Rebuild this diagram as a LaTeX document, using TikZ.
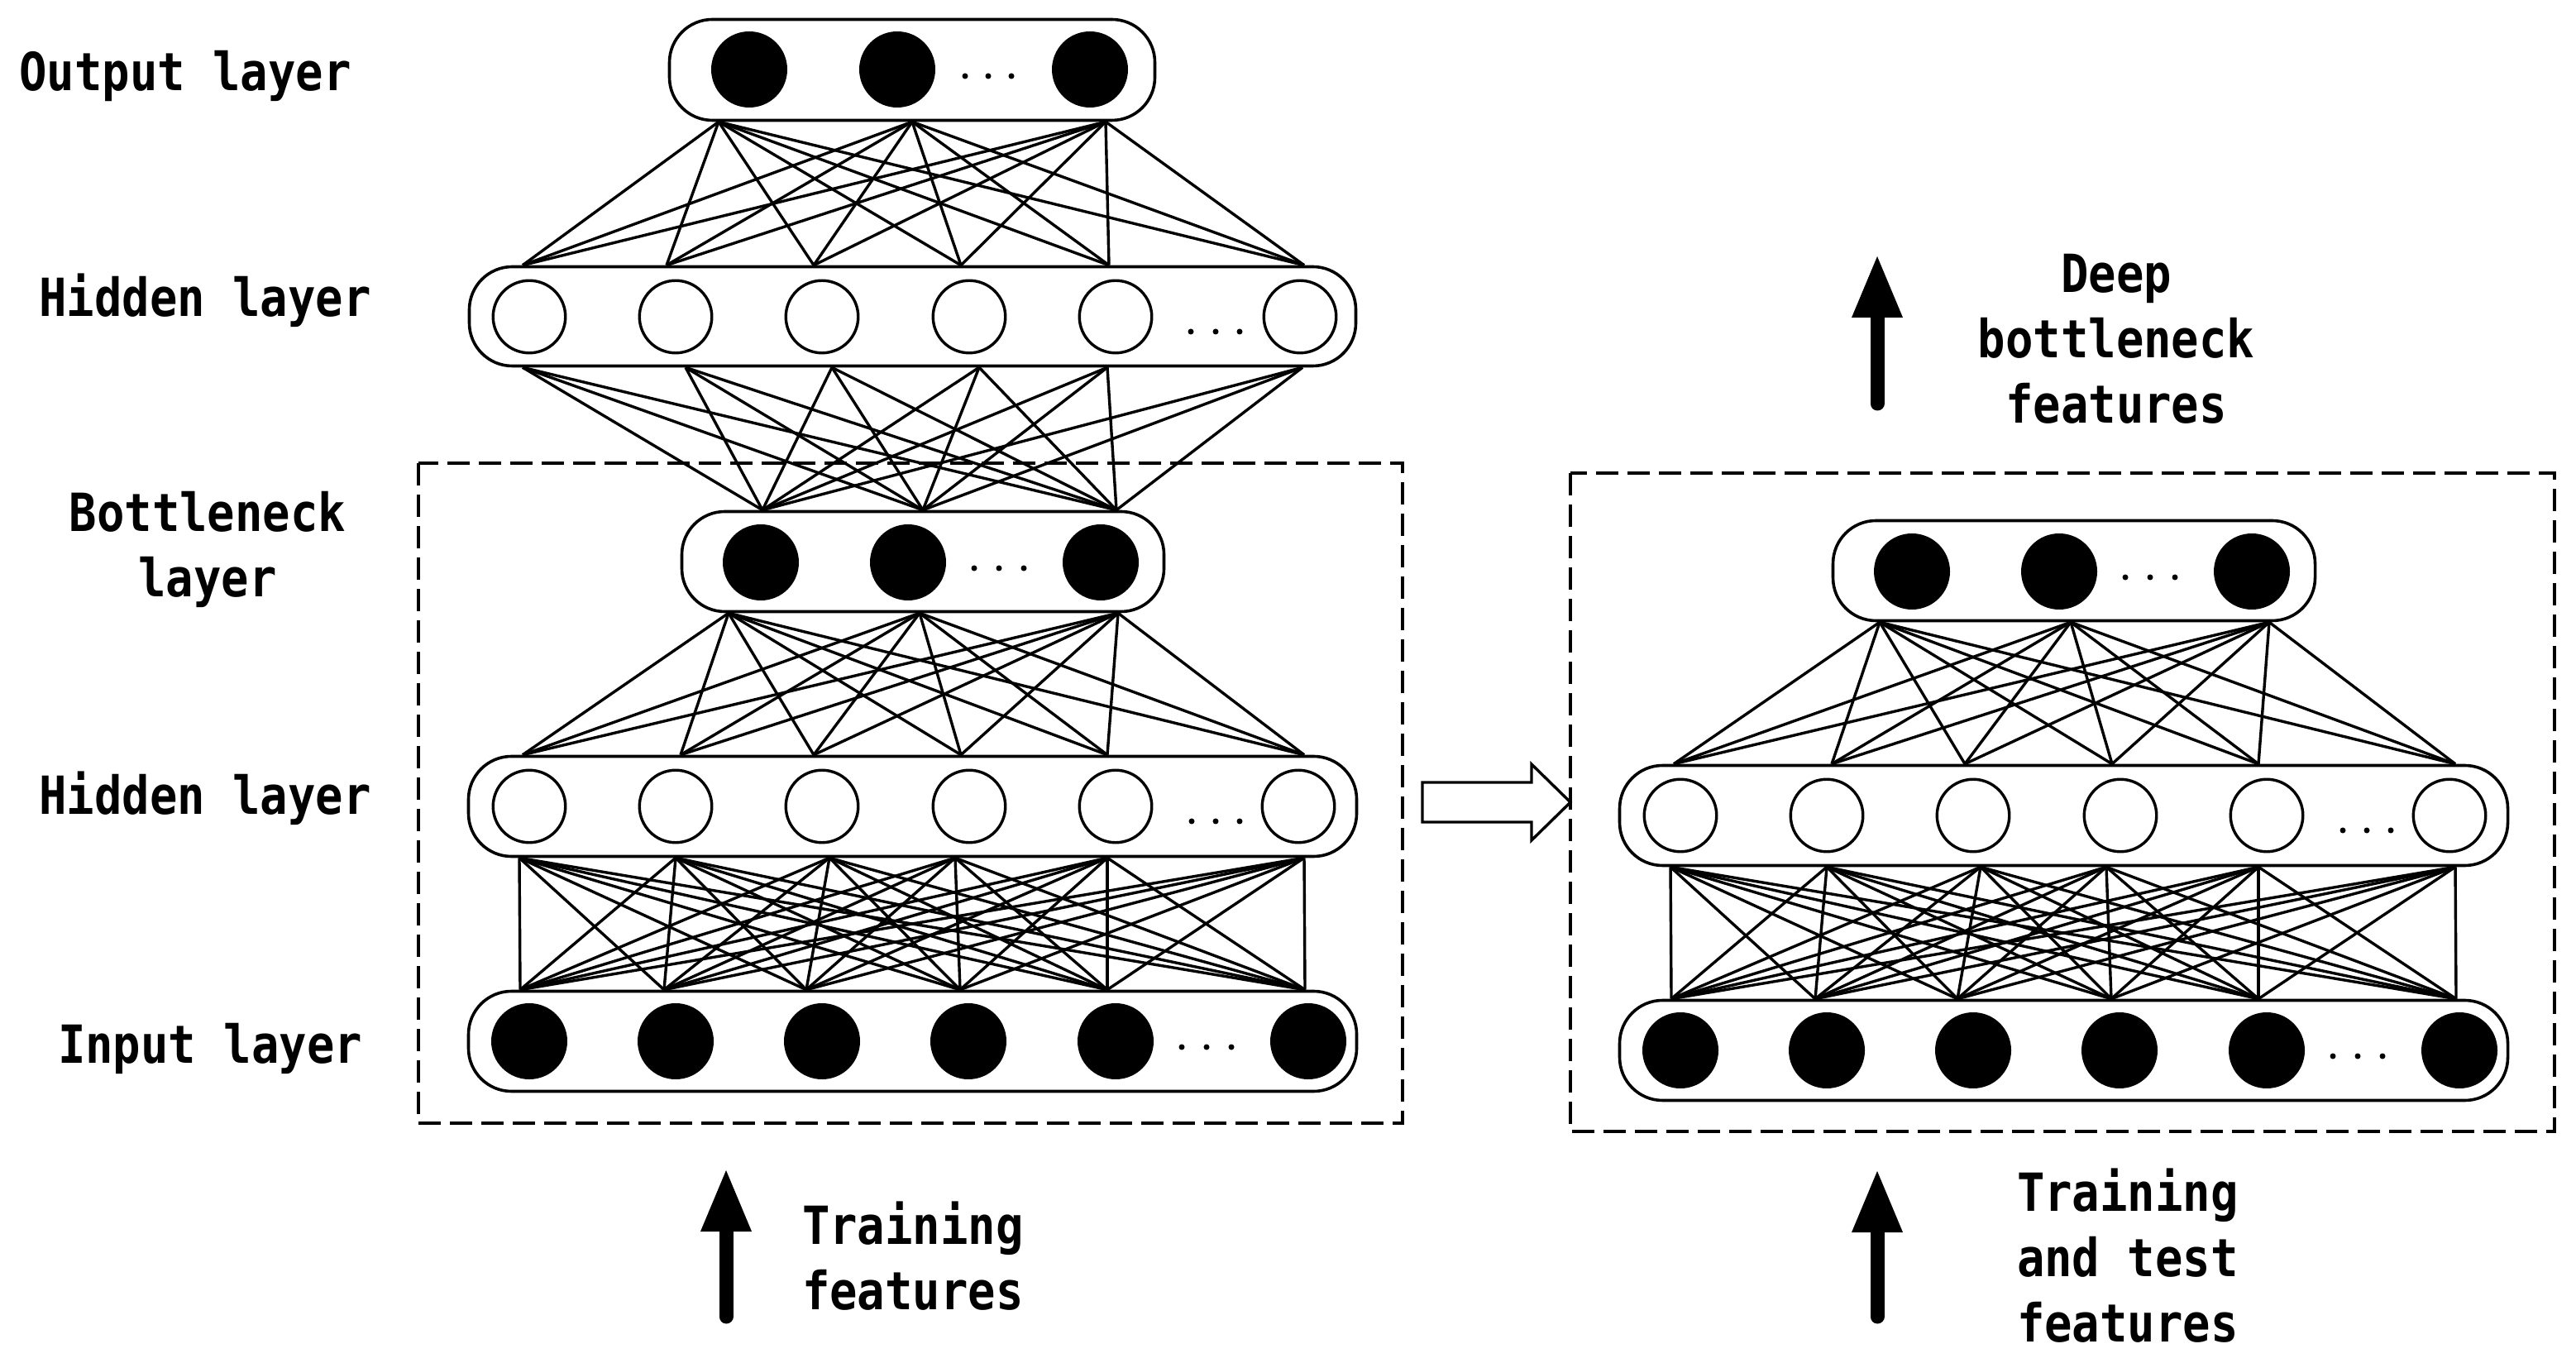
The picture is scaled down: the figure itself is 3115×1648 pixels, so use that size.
\documentclass[tikz,border=0pt]{standalone}
\usepackage{fontspec}
\newfontfamily\lblfont[FakeStretch=0.875]{DejaVu Sans Mono}
\usetikzlibrary{arrows.meta}
\tikzset{
  conn/.style={line width=0.68pt},
  layerbox/.style={draw, line width=0.72pt, rounded corners=10.4pt, fill=white, inner sep=0pt},
  fnode/.style={circle, fill=black, minimum size=18.4pt, inner sep=0pt},
  hnode/.style={circle, draw, line width=0.68pt, fill=white, minimum size=17.5pt, inner sep=0pt},
  dotnode/.style={circle, fill=black, minimum size=1.4pt, inner sep=0pt},
  lbl/.style={font=\lblfont\bfseries\fontsize{12.7}{15.8}\selectfont, inner sep=0pt},
  dashbox/.style={line width=0.72pt, dash pattern=on 5.4pt off 2.2pt},
  bigarrow/.style={line width=3.4pt, line cap=round, -{Triangle[length=14.8pt,width=12.4pt,line width=0pt]}},
  hollowarrow/.style={draw, line width=0.68pt, fill=white},
}
% lower part of a network: bottleneck, hidden and input layers
\newcommand\lowernet[1]{%
  \node[layerbox, minimum width=116.6pt, minimum height=24.2pt] (#1bn) at (1116,679) {};
  \node[layerbox, minimum width=214.8pt, minimum height=24.2pt] (#1hid) at (1103.5,975) {};
  \node[layerbox, minimum width=214.8pt, minimum height=24.2pt] (#1inp) at (1103.5,1259) {};
  \foreach \x [count=\k] in {920,1098,1331} \node[fnode] (#1bnc\k) at (\x,680) {};
  \foreach \x [count=\k] in {1178,1208,1238} \node[dotnode] (#1bnd\k) at (\x,687) {};
  \foreach \x [count=\k] in {640,817,994,1172,1349,1570} \node[hnode] (#1hidc\k) at (\x,975) {};
  \foreach \x [count=\k] in {1441,1470,1499} \node[dotnode] (#1hidd\k) at (\x,993) {};
  \foreach \x [count=\k] in {640,817,994,1171,1349,1582} \node[fnode] (#1inpc\k) at (\x,1259) {};
  \foreach \x [count=\k] in {1429,1459,1489} \node[dotnode] (#1inpd\k) at (\x,1266) {};
  \foreach \x [count=\k] in {922,1116,1350} \coordinate (#1bt\k) at (#1bn.north -| \x,0);
  \foreach \x [count=\k] in {881,1112,1352} \coordinate (#1bb\k) at (#1bn.south -| \x,0);
  \foreach \x [count=\k] in {632,823,984,1162,1339,1577} \coordinate (#1ht\k) at (#1hid.north -| \x,0);
  \foreach \x [count=\k] in {628,817,1003,1155,1339,1577} \coordinate (#1hb\k) at (#1hid.south -| \x,0);
  \foreach \x [count=\k] in {629,803,975,1161,1339,1578} \coordinate (#1it\k) at (#1inp.north -| \x,0);
  \foreach \i in {1,2,3} \foreach \j in {1,...,6} \draw[conn] (#1bb\i) -- (#1ht\j);
  \foreach \i in {1,...,6} \foreach \j in {1,...,6} \draw[conn] (#1hb\i) -- (#1it\j);
}
\begin{document}
\begin{tikzpicture}[x=0.2pt, y=-0.2pt]
  \fill[white] (0,0) rectangle (3115,1648);
  \useasboundingbox (0,0) rectangle (3115,1648);

  % dashed frames
  \draw[dashbox] (506,560) rectangle (1696,1358);
  \draw[dashbox] (1899,572) rectangle (3089,1368);

  % left network, upper part
  \node[layerbox, minimum width=117.4pt, minimum height=24.4pt] (Lout) at (1103,84.5) {};
  \node[layerbox, minimum width=214.4pt, minimum height=24pt] (Lh1) at (1103.5,382.5) {};
  \foreach \x [count=\k] in {906,1085,1318} \node[fnode] (Loutc\k) at (\x,84) {};
  \foreach \x [count=\k] in {1167,1195,1223} \node[dotnode] (Loutd\k) at (\x,92) {};
  \foreach \x [count=\k] in {640,817,994,1172,1349,1572} \node[hnode] (Lh1c\k) at (\x,383) {};
  \foreach \x [count=\k] in {1440,1470,1499} \node[dotnode] (Lh1d\k) at (\x,401) {};

  % left network, lower part (and its connections)
  \lowernet{L}

  \foreach \x [count=\k] in {869,1103,1337} \coordinate (Lob\k) at (Lout.south -| \x,0);
  \foreach \x [count=\k] in {632,806,984,1162,1341,1577} \coordinate (Lh1t\k) at (Lh1.north -| \x,0);
  \foreach \x [count=\k] in {632,829,1006,1184,1339,1575} \coordinate (Lh1b\k) at (Lh1.south -| \x,0);
  \foreach \i in {1,2,3} \foreach \j in {1,...,6} \draw[conn] (Lob\i) -- (Lh1t\j);
  \foreach \i in {1,...,6} \foreach \j in {1,2,3} \draw[conn] (Lh1b\i) -- (Lbt\j);

  % right network
  \begin{scope}[shift={(1392,11)}]
    \lowernet{R}
  \end{scope}

  % hollow arrow between the two frames
  \draw[hollowarrow] (1720,946) -- (1852,946) -- (1852,924) -- (1899,970)
        -- (1852,1016) -- (1852,994) -- (1720,994) -- cycle;

  % black arrows
  \coordinate (arrLs) at (878,1592);
  \coordinate (arrLe) at (878,1415);
  \coordinate (arrRs) at (2270,1592);
  \coordinate (arrRe) at (2270,1416);
  \coordinate (arrTs) at (2270,488);
  \coordinate (arrTe) at (2270,310);
  \draw[bigarrow] (arrLs) -- (arrLe);
  \draw[bigarrow] (arrRs) -- (arrRe);
  \draw[bigarrow] (arrTs) -- (arrTe);

  % labels (anchor=base is the baseline of the last line)
  \node[lbl, anchor=base] (tOut) at (224,110) {Output layer};
  \node[lbl, anchor=base] (tHid1) at (248,383) {Hidden layer};
  \node[lbl, anchor=base, align=center] (tBn) at (251,722) {Bottleneck\\layer};
  \node[lbl, anchor=base] (tHid2) at (248,985) {Hidden layer};
  \node[lbl, anchor=base] (tIn) at (254,1285) {Input layer};
  \node[lbl, anchor=base, align=center] (tDeep) at (2559,512) {Deep\\bottleneck\\features};
  \node[lbl, anchor=base west, align=left] (tTrain) at (969,1583) {Training\\features};
  \node[lbl, anchor=base west, align=left] (tTrainTest) at (2438,1622) {Training\\and test\\features};
\end{tikzpicture}
\end{document}
